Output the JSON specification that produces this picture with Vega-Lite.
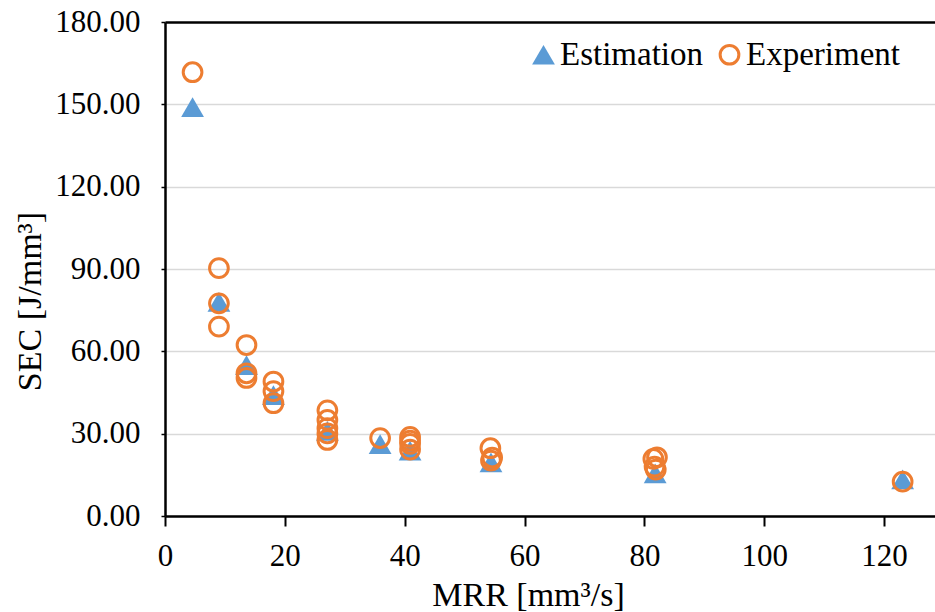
{
  "$schema": "https://vega.github.io/schema/vega-lite/v6.json",
  "width": 770,
  "height": 494,
  "autosize": {"type": "none"},
  "padding": {"left": 165, "top": 22, "right": 0, "bottom": 96},
  "background": "white",
  "config": {
    "view": {"stroke": null},
    "font": "Liberation Serif",
    "axis": {"labelFont": "Liberation Serif", "titleFont": "Liberation Serif"},
    "legend": {
      "orient": "none",
      "legendX": 362,
      "legendY": 16,
      "direction": "horizontal",
      "padding": 0,
      "labelFont": "Liberation Serif",
      "labelFontSize": 33,
      "labelColor": "black",
      "labelOffset": 0,
      "labelLimit": 0,
      "columnPadding": 10,
      "symbolStrokeWidth": 3
    }
  },
  "data": {
    "values": [
      {"series": "Estimation", "mrr": 4.6, "sec": 149.0},
      {"series": "Estimation", "mrr": 9.0, "sec": 78.0},
      {"series": "Estimation", "mrr": 13.6, "sec": 55.0},
      {"series": "Estimation", "mrr": 18.1, "sec": 44.0},
      {"series": "Estimation", "mrr": 27.1, "sec": 31.0},
      {"series": "Estimation", "mrr": 35.9, "sec": 26.2},
      {"series": "Estimation", "mrr": 40.9, "sec": 23.8},
      {"series": "Estimation", "mrr": 54.4, "sec": 19.5},
      {"series": "Estimation", "mrr": 81.8, "sec": 15.5},
      {"series": "Estimation", "mrr": 123.1, "sec": 13.3},
      {"series": "Experiment", "mrr": 4.6, "sec": 161.7},
      {"series": "Experiment", "mrr": 9.0, "sec": 90.3},
      {"series": "Experiment", "mrr": 9.0, "sec": 77.5},
      {"series": "Experiment", "mrr": 9.0, "sec": 69.0},
      {"series": "Experiment", "mrr": 13.6, "sec": 62.3},
      {"series": "Experiment", "mrr": 13.6, "sec": 52.0},
      {"series": "Experiment", "mrr": 13.6, "sec": 50.3},
      {"series": "Experiment", "mrr": 18.1, "sec": 49.0},
      {"series": "Experiment", "mrr": 18.1, "sec": 45.5},
      {"series": "Experiment", "mrr": 18.1, "sec": 41.1},
      {"series": "Experiment", "mrr": 27.1, "sec": 38.5},
      {"series": "Experiment", "mrr": 27.1, "sec": 35.0},
      {"series": "Experiment", "mrr": 27.1, "sec": 32.0},
      {"series": "Experiment", "mrr": 27.1, "sec": 30.1},
      {"series": "Experiment", "mrr": 27.1, "sec": 27.7},
      {"series": "Experiment", "mrr": 35.9, "sec": 28.4},
      {"series": "Experiment", "mrr": 40.9, "sec": 28.8},
      {"series": "Experiment", "mrr": 40.9, "sec": 27.5},
      {"series": "Experiment", "mrr": 40.9, "sec": 26.3},
      {"series": "Experiment", "mrr": 40.9, "sec": 24.2},
      {"series": "Experiment", "mrr": 54.3, "sec": 24.7},
      {"series": "Experiment", "mrr": 54.6, "sec": 21.3},
      {"series": "Experiment", "mrr": 54.4, "sec": 20.2},
      {"series": "Experiment", "mrr": 81.5, "sec": 20.8},
      {"series": "Experiment", "mrr": 82.1, "sec": 21.4},
      {"series": "Experiment", "mrr": 81.9, "sec": 16.9},
      {"series": "Experiment", "mrr": 81.7, "sec": 18.0},
      {"series": "Experiment", "mrr": 123.1, "sec": 12.5}
    ]
  },
  "mark": {"type": "point", "opacity": 1, "strokeWidth": 3},
  "encoding": {
    "x": {
      "field": "mrr",
      "type": "quantitative",
      "scale": {"domain": [0, 128.5], "nice": false, "zero": false},
      "axis": {
        "values": [0, 20, 40, 60, 80, 100, 120],
        "format": "d",
        "grid": false,
        "domainColor": "black",
        "domainWidth": 2.5,
        "tickColor": "black",
        "tickWidth": 2,
        "tickSize": 10,
        "labelFont": "Liberation Serif",
        "labelFontSize": 31,
        "labelColor": "black",
        "labelPadding": 15,
        "labelFlush": false,
        "title": "MRR [mm³/s]",
        "titleFontSize": 34,
        "titleFontWeight": "normal",
        "titleColor": "black",
        "titleX": 363,
        "titleY": 79,
        "titleBaseline": "middle"
      }
    },
    "y": {
      "field": "sec",
      "type": "quantitative",
      "scale": {"domain": [0, 180], "nice": false},
      "axis": {
        "values": [0, 30, 60, 90, 120, 150, 180],
        "format": ".2f",
        "grid": true,
        "gridColor": {"condition": {"test": "datum.value == 180", "value": "black"}, "value": "#d9d9d9"},
        "gridWidth": {"condition": {"test": "datum.value == 180", "value": 2.5}, "value": 1.5},
        "domainColor": "black",
        "domainWidth": 2.5,
        "tickColor": "black",
        "tickWidth": 1.5,
        "tickSize": 4,
        "labelFont": "Liberation Serif",
        "labelFontSize": 31,
        "labelColor": "black",
        "labelPadding": 21,
        "labelFlush": false,
        "title": "SEC [J/mm³]",
        "titleFontSize": 34,
        "titleFontWeight": "normal",
        "titleColor": "black",
        "titleX": -135,
        "titleY": 279,
        "titleAngle": -90,
        "titleBaseline": "middle",
        "titleAlign": "center"
      }
    },
    "shape": {
      "field": "series",
      "type": "nominal",
      "scale": {"domain": ["Estimation", "Experiment"], "range": ["triangle-up", "circle"]},
      "legend": {"title": null}
    },
    "fill": {
      "field": "series",
      "type": "nominal",
      "scale": {"domain": ["Estimation", "Experiment"], "range": ["#5B9BD5", "transparent"]},
      "legend": {"title": null}
    },
    "stroke": {
      "field": "series",
      "type": "nominal",
      "scale": {"domain": ["Estimation", "Experiment"], "range": ["transparent", "#ED7D31"]},
      "legend": {"title": null}
    },
    "size": {
      "field": "series",
      "type": "nominal",
      "scale": {"domain": ["Estimation", "Experiment"], "range": [520, 350]},
      "legend": {"title": null}
    }
  }
}
